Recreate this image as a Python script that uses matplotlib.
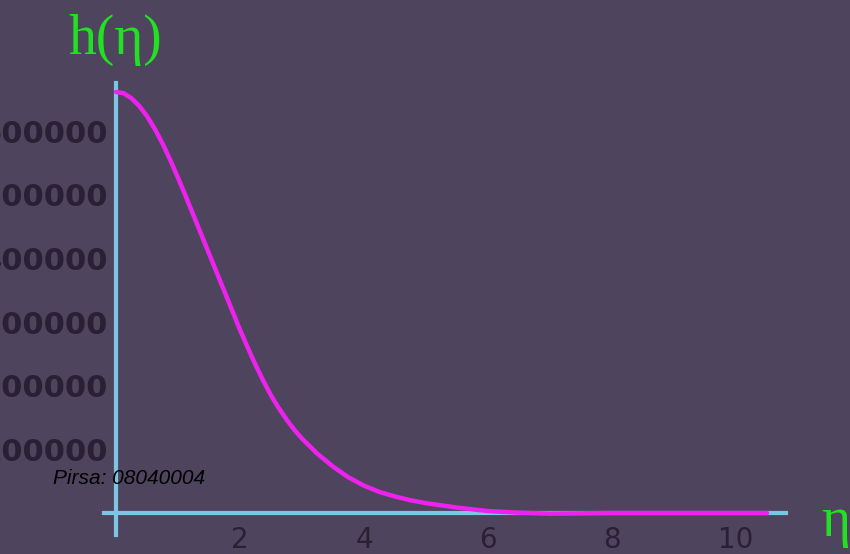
import matplotlib.pyplot as plt

# curve
eta = [0, 0.125, 0.25, 0.375, 0.5, 0.625, 0.75, 0.875, 1.0, 1.125, 1.25,
       1.375, 1.5, 1.625, 1.75, 1.875, 2.0, 2.125, 2.25, 2.375, 2.5, 2.625,
       2.75, 2.875, 3.0, 3.25, 3.5, 3.75, 4.0, 4.25, 4.5, 4.75, 5.0, 5.5,
       6.0, 6.5, 7.0, 8.0, 9.0, 10.0, 10.5]
h = [662000, 660000, 652000, 640000, 624000, 604000, 581000, 555000, 527000,
     498000, 468000, 438000, 408000, 378000, 348000, 318000, 288000, 260000,
     233000, 208000, 185000, 165000, 147000, 131000, 117000, 93000, 73000,
     56000, 43000, 33000, 26000, 20000, 15500, 8500, 3000, 500, -1000, 0, 0,
     0, 0]

xticks = [2, 4, 6, 8, 10]
yticks = [100000, 200000, 300000, 400000, 500000, 600000]

bg = '#4f445e'
axis_col = '#7cc6e4'
curve_col = '#ee22ee'
green = '#22e022'
dark = '#2a2034'

fig = plt.figure(figsize=(8.5, 5.54), dpi=100, facecolor=bg)
ax = fig.add_axes([0, 0, 1, 1], facecolor=bg)

ax.plot(eta, h, color=curve_col, lw=3.2, solid_capstyle='round',
        solid_joinstyle='round', zorder=3)

ax.set_xlim(-116 / 62, (850 - 116) / 62)
ax.set_ylim(-41 / 63.6 * 1e5, 513 / 63.6 * 1e5)

for s in ['top', 'right']:
    ax.spines[s].set_visible(False)
ax.spines['left'].set_position(('data', 0))
ax.spines['bottom'].set_position(('data', 0))
ax.spines['left'].set_bounds(-35000, 676000)
ax.spines['bottom'].set_bounds(-0.2, 10.8)
for s in ['left', 'bottom']:
    ax.spines[s].set_color(axis_col)
    ax.spines[s].set_linewidth(3)
    ax.spines[s].set_zorder(2)

ax.set_xticks(xticks)
ax.set_xticklabels([str(t) for t in xticks])
ax.set_yticks(yticks)
ax.set_yticklabels([str(t) for t in yticks])
ax.tick_params(axis='x', length=0, pad=9, labelsize=20, labelcolor=dark)
ax.tick_params(axis='y', length=0, pad=6, labelsize=22, labelcolor=dark)
for lab in ax.get_yticklabels():
    lab.set_fontweight('bold')

fig.text(115 / 850, 1 - 40 / 554, 'h(η)', color=green, fontsize=40,
         family='Liberation Serif', ha='center', va='center')
fig.text(836 / 850, 1 - 522 / 554, 'η', color=green, fontsize=40,
         family='Liberation Serif', ha='center', va='center')
fig.text(53 / 850, 1 - 478 / 554, 'Pirsa: 08040004', color='black', fontsize=15,
         family='Liberation Sans', style='italic', ha='left', va='center')

fig.savefig('out.png', dpi=100, facecolor=bg)
